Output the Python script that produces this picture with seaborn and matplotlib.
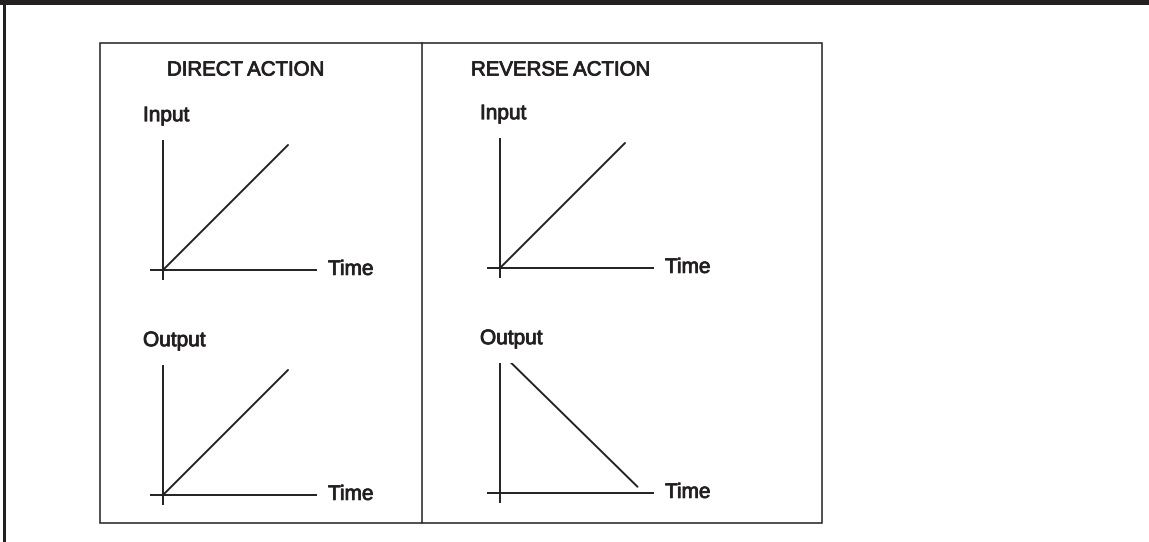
import matplotlib
matplotlib.use('Agg')
import matplotlib.pyplot as plt
import matplotlib.patheffects as pe
import seaborn as sns
from matplotlib.transforms import Affine2D
from matplotlib.patches import Rectangle
from matplotlib.lines import Line2D

# values (time and signal in "unit ramp" units)
time = [0, 1]
direct_input = [0, 1]
direct_output = [0, 1]
reverse_input = [0, 1]
reverse_out_time = [0.07, 1.1]
reverse_output = [1.06, 0.05]

titles = ['DIRECT ACTION', 'REVERSE ACTION']
row_labels = ['Input', 'Output']
x_label = 'Time'

sns.set_theme(style='white')
plt.rcParams['font.family'] = ['Liberation Sans', 'DejaVu Sans']

W, H = 1149, 542
INK = '#231f20'
heavy = [pe.withStroke(linewidth=0.6, foreground=INK)]
fig = plt.figure(figsize=(W / 100, H / 100), dpi=100)
pix = Affine2D().scale(1 / W, -1 / H).translate(0, 1) + fig.transFigure

# page frame
fig.patches.append(Rectangle((0, 0), W, 5, transform=pix, color=INK, lw=0))
fig.patches.append(Rectangle((3, 0), 3, H, transform=pix, color=INK, lw=0))
fig.patches.append(Rectangle((100, 43), 722, 480, transform=pix, fill=False,
                             ec=INK, lw=1.1))
fig.lines.append(Line2D([422, 422], [43, 523], transform=pix, color=INK, lw=1.1))

for x0, t in zip([167, 471], titles):
    fig.text(x0, 70, t, transform=pix, fontsize=14.7, va='center', color=INK,
             path_effects=heavy)

S = 125  # pixels per unit


def panel(ox, oy, x, y, label):
    ax = fig.add_axes([(ox - 13) / W, 1 - (oy + 10) / H, 167 / W, 140 / H])
    ax.set_xlim(-13 / S, 154 / S)
    ax.set_ylim(-10 / S, 130 / S)
    ax.axis('off')
    ax.axhline(0, color=INK, lw=1.4)
    ax.axvline(0, color=INK, lw=1.4)
    sns.lineplot(x=x, y=y, ax=ax, color=INK, lw=1.4)
    ax.text(-0.16, 1.235, label, fontsize=15, va='center', color=INK,
            clip_on=False, path_effects=heavy)
    ax.text(1.32, 0.005, x_label, fontsize=15, va='center', color=INK,
            clip_on=False, path_effects=heavy)
    return ax


panel(163, 270, time, direct_input, row_labels[0])
panel(163, 495, time, direct_output, row_labels[1])
panel(500, 268, time, reverse_input, row_labels[0])
panel(500, 493, reverse_out_time, reverse_output, row_labels[1])

fig.savefig('out.png', dpi=100, facecolor='white')
